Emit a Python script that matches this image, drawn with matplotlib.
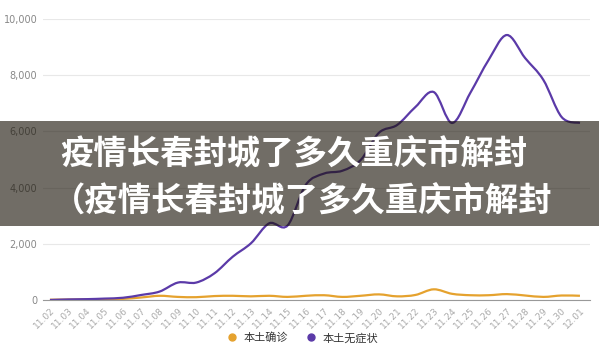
import matplotlib.pyplot as plt
import numpy as np
from matplotlib.path import Path
from matplotlib.patches import PathPatch, Rectangle
from matplotlib.lines import Line2D

plt.rcParams['font.family'] = ['Noto Sans CJK SC', 'DejaVu Sans']

# 数据
dias = ['11.02', '11.03', '11.04', '11.05', '11.06', '11.07', '11.08', '11.09', '11.10', '11.11',
        '11.12', '11.13', '11.14', '11.15', '11.16', '11.17', '11.18', '11.19', '11.20', '11.21',
        '11.22', '11.23', '11.24', '11.25', '11.26', '11.27', '11.28', '11.29', '11.30', '12.01']
confirmados = [10, 15, 20, 30, 40, 90, 150, 110, 100, 140,
               150, 130, 150, 110, 150, 170, 110, 150, 200, 130,
               180, 380, 220, 170, 170, 210, 160, 110, 160, 150]
assintomaticos = [0, 20, 30, 50, 80, 180, 300, 620, 620, 950,
                  1540, 2020, 2730, 2650, 4100, 4500, 4600, 4980, 5950, 6230,
                  6870, 7400, 6300, 7370, 8540, 9430, 8610, 7830, 6510, 6300]
yticks = [0, 2000, 4000, 6000, 8000, 10000]
series_names = ['本土确诊', '本土无症状']
cores = ['#E5A22E', '#5B3AA8']


def curva_suave(x, y):
    # curva de bezier passando pelos pontos (estilo catmull-rom)
    pts = np.column_stack([x, y]).astype(float)
    n = len(pts)
    verts = [pts[0]]
    codes = [Path.MOVETO]
    for i in range(n - 1):
        p0 = pts[max(i - 1, 0)]
        p1 = pts[i]
        p2 = pts[i + 1]
        p3 = pts[min(i + 2, n - 1)]
        c1 = p1 + (p2 - p0) / 6
        c2 = p2 - (p3 - p1) / 6
        verts += [c1, c2, p2]
        codes += [Path.CURVE4] * 3
    return Path(verts, codes)


fig = plt.figure(figsize=(5.99, 3.5), dpi=100)
ax = fig.add_axes([43 / 599, 50 / 350, 547 / 599, 281 / 350])

x = np.arange(len(dias))
for serie, cor in zip([confirmados, assintomaticos], cores):
    ax.add_patch(PathPatch(curva_suave(x, serie), facecolor='none', edgecolor=cor, lw=1.6, zorder=3))

ax.set_xlim(-0.38, len(dias) - 1 + 0.55)
ax.set_ylim(0, 10000)
ax.set_yticks(yticks)
ax.set_yticklabels([f'{v:,}' for v in yticks], fontsize=7, color='#888888', family='DejaVu Sans')
ax.set_xticks(x)
ax.set_xticklabels(dias, rotation=45, ha='right', rotation_mode='anchor',
                   fontsize=6.5, color='#aaaaaa', family='DejaVu Sans')
ax.tick_params(axis='both', length=0, pad=4)
ax.grid(axis='y', color='#e8e8e8', lw=0.8)
for lado in ['top', 'right', 'left']:
    ax.spines[lado].set_visible(False)
ax.spines['bottom'].set_color('#999999')
ax.spines['bottom'].set_zorder(4)

# legenda
handles = [Line2D([], [], marker='o', ls='', color=c, markersize=5) for c in cores]
fig.legend(handles, series_names, loc='center', bbox_to_anchor=(0.5, 12 / 350), ncol=2,
           frameon=False, fontsize=8, handletextpad=0.1, columnspacing=1.0, labelcolor='#333333')

# faixa escura com o titulo
fig.add_artist(Rectangle((0, 124 / 350), 1, 105 / 350, transform=fig.transFigure,
                         facecolor='#1a1408', alpha=0.62, edgecolor='none', zorder=5))
fig.text(60 / 599, 1 - 155 / 350, '疫情长春封城了多久重庆市解封', color='white', fontsize=24,
         fontweight='bold', va='center', ha='left', zorder=6)
fig.text(52 / 599, 1 - 202 / 350, '（疫情长春封城了多久重庆市解封', color='white', fontsize=24,
         fontweight='bold', va='center', ha='left', zorder=6)

fig.savefig('out.png', dpi=100)
